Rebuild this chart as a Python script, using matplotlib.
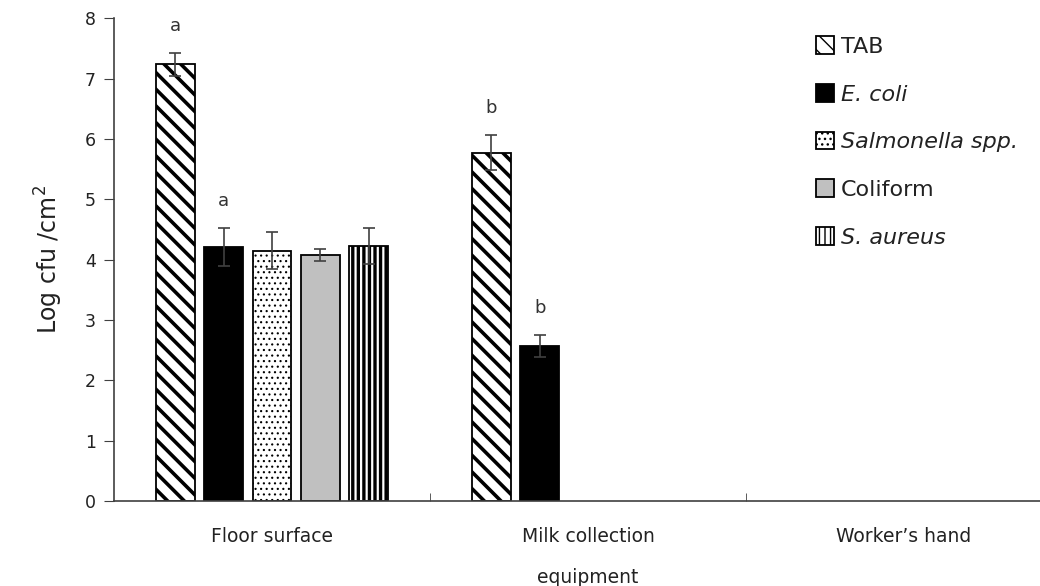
import matplotlib
matplotlib.use("Agg")
import matplotlib.pyplot as plt
import numpy as np

plt.rcParams['font.family'] = ['DejaVu Sans']

# data
sites = ['Floor surface', 'Milk collection\nequipment', 'Worker\u2019s hand']
series = ['TAB', 'E. coli', 'Salmonella spp.', 'Coliform', 'S. aureus']
italic = [False, True, True, False, True]
means = {
    'TAB': [7.24, 5.77, None],
    'E. coli': [4.21, 2.57, None],
    'Salmonella spp.': [4.15, None, None],
    'Coliform': [4.08, None, None],
    'S. aureus': [4.23, None, None],
}
errs = {
    'TAB': [0.19, 0.29, None],
    'E. coli': [0.31, 0.18, None],
    'Salmonella spp.': [0.30, None, None],
    'Coliform': [0.10, None, None],
    'S. aureus': [0.30, None, None],
}
letters = {
    'TAB': ['a', 'b', None],
    'E. coli': ['a', 'b', None],
}

styles = {
    'TAB': dict(color='white', hatch='\\\\', hlw=2.6),
    'E. coli': dict(color='black', hatch=None, hlw=1.0),
    'Salmonella spp.': dict(color='white', hatch='...', hlw=0.8),
    'Coliform': dict(color='#c0c0c0', hatch=None, hlw=1.0),
    'S. aureus': dict(color='white', hatch='|||', hlw=2.4),
}

fig = plt.figure(figsize=(10.4, 5.86), dpi=100)
ax = fig.add_axes([0.1096, 0.145, 0.8904, 0.824])

x = np.arange(len(sites))
step = 0.153
width = 0.123
handles = []
for i, s in enumerate(series):
    xs, ys, es = [], [], []
    for j in range(len(sites)):
        if means[s][j] is not None:
            xs.append(x[j] + (i - 2) * step)
            ys.append(means[s][j])
            es.append(errs[s][j])
    st = styles[s]
    with plt.rc_context({'hatch.linewidth': st['hlw']}):
        b = ax.bar(xs, ys, width, color=st['color'], hatch=st['hatch'],
                   edgecolor='black', linewidth=1.3, label=s)
    handles.append(b)
    ax.errorbar(xs, ys, yerr=es, fmt='none', ecolor='#404040',
                elinewidth=1.2, capsize=4.5, capthick=1.2)
    if s in letters:
        k = 0
        for j in range(len(sites)):
            if means[s][j] is None:
                continue
            ax.annotate(letters[s][j], (xs[k], ys[k] + es[k]),
                        xytext=(0, 13), textcoords='offset points',
                        ha='center', va='bottom', fontsize=13, color='#333333')
            k += 1

ax.set_ylim(0, 8)
ax.set_xlim(-0.5, -0.5 + (1040 - 114) / 316)
ax.set_yticks(range(0, 9))
ax.set_xticks(x)
ax.set_xticklabels(sites, fontsize=13.5, linespacing=2.45, color='#222222')
ax.set_xticks([0.5, 1.5], minor=True)
ax.tick_params(axis='x', which='major', length=0, pad=19)
ax.tick_params(axis='x', which='minor', direction='in', length=6, color='#404040')
ax.tick_params(axis='y', direction='out', length=7, labelsize=12.5,
               color='#404040', labelcolor='#222222', pad=6)
for side in ['top', 'right']:
    ax.spines[side].set_visible(False)
for side in ['left', 'bottom']:
    ax.spines[side].set_color('#404040')
    ax.spines[side].set_linewidth(1.2)

ax.set_ylabel('Log cfu /cm$^2$', fontsize=17, color='#222222', labelpad=14)

leg = fig.legend(handles=handles, loc='upper left', bbox_to_anchor=(0.765, 0.972),
                 frameon=False, fontsize=16, handlelength=0.85, handleheight=0.85,
                 handletextpad=0.3, labelspacing=1.22)
for t, it in zip(leg.get_texts(), italic):
    t.set_color('#222222')
    if it:
        t.set_style('italic')

fig.savefig('out.png', dpi=100)
